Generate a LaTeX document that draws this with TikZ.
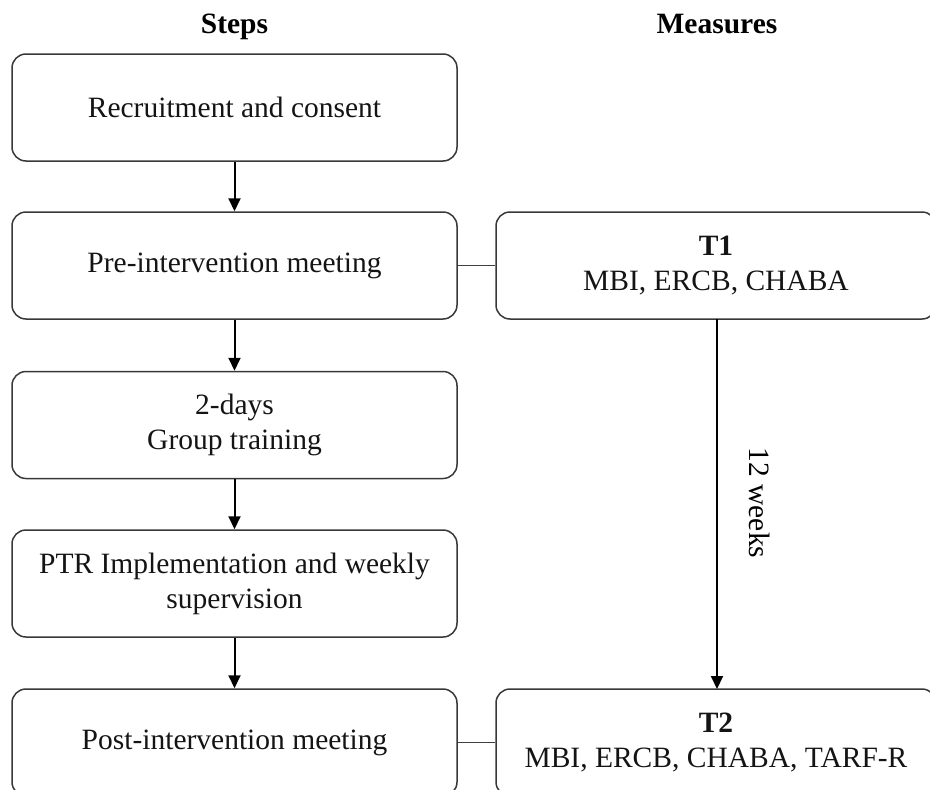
\documentclass[tikz,border=0pt]{standalone}
\usepackage{fontspec}
\setmainfont{Liberation Serif}
\usetikzlibrary{arrows.meta}
\tikzset{
  box/.style={draw=black!78, line width=1.5pt, rounded corners=14pt, rectangle,
    minimum height=107pt, align=center, inner sep=0pt,
    font=\fontsize{29.5}{35}\selectfont, text=black!92},
  leftbox/.style={box, minimum width=445pt},
  rightbox/.style={box, minimum width=440pt},
  flow/.style={draw=black, line width=2pt, -{Triangle[length=13pt,width=12pt]}},
  link/.style={draw=black!75, line width=1.4pt},
  head/.style={font=\fontsize{29.5}{35}\selectfont\bfseries, inner sep=0pt, anchor=base},
  lbltext/.style={rotate=-90, font=\fontsize{29.5}{35}\selectfont, inner sep=0pt},
}
\begin{document}
\begin{tikzpicture}[x=1pt,y=-1pt]
\useasboundingbox (0,0) rectangle (930,790);
\clip (0,0) rectangle (930,790);
\node[head] (hsteps) at (234.5,33) {Steps};
\node[head] (hmeas) at (717,33) {Measures};
\node[leftbox] (b1) at (234.5,107.5) {Recruitment and consent};
\node[leftbox] (b2) at (234.5,265.5) {Pre-intervention meeting};
\node[leftbox] (b3) at (234.5,425) {2-days\\Group training};
\node[leftbox] (b4) at (234.5,583.5) {PTR Implementation and weekly\\supervision};
\node[leftbox] (b5) at (234.5,742.5) {Post-intervention meeting};
\node[rightbox] (t1) at (716,265.5) {\textbf{T1}\\MBI, ERCB, CHABA};
\node[rightbox] (t2) at (716,742.5) {\textbf{T2}\\MBI, ERCB, CHABA, TARF-R};
\coordinate (t1b) at (717,319);
\coordinate (t2t) at (717,689);
\draw[flow] (b1.south) -- (b2.north);
\draw[flow] (b2.south) -- (b3.north);
\draw[flow] (b3.south) -- (b4.north);
\draw[flow] (b4.south) -- (b5.north);
\draw[link] (b2.east) -- (t1.west);
\draw[link] (b5.east) -- (t2.west);
\draw[flow] (t1b) -- (t2t);
\node[lbltext] (weeks) at (760,503) {12 weeks};
\end{tikzpicture}
\end{document}
